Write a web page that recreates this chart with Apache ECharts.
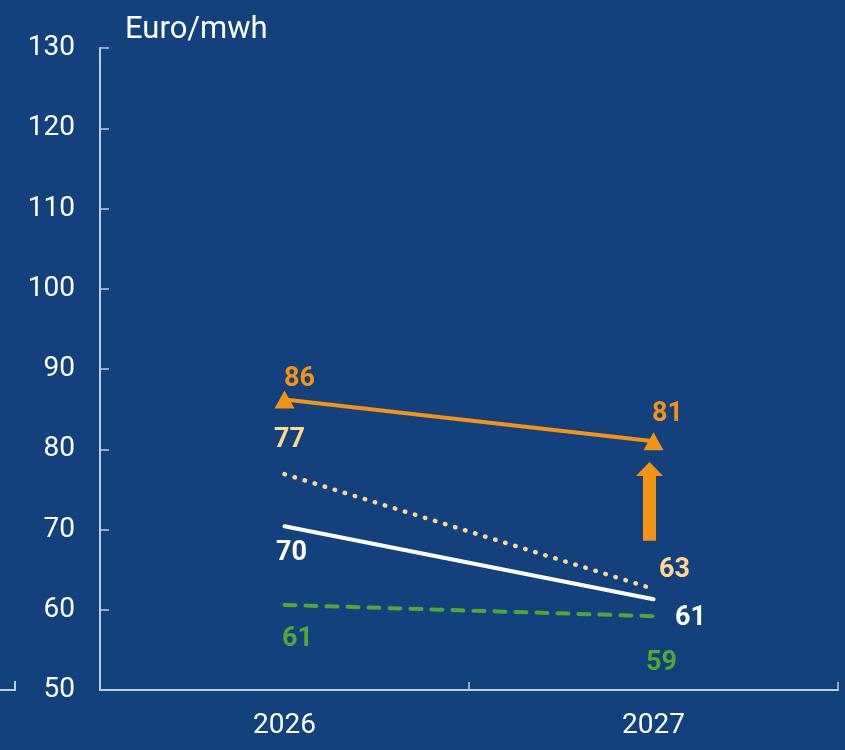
<!DOCTYPE html>
<html>
<head>
<meta charset="utf-8">
<script src="https://cdn.jsdelivr.net/npm/echarts@6/dist/echarts.min.js"></script>
<style>
html,body{margin:0;padding:0;background:#13417d;}
#chart{width:845px;height:750px;}
</style>
</head>
<body>
<div id="chart"></div>
<script>
// Data
const categories = ['2026', '2027'];
const orangeSeries = [86.2, 81.0];
const dottedSeries = [76.9, 62.6];
const whiteSeries = [70.4, 61.3];
const greenSeries = [60.6, 59.2];
const arrowRange = [[1, 68.6, 78.4]]; // category index, from, to
const yTicks = { min: 50, max: 130, interval: 10 };
const unitLabel = 'Euro/mwh';

// Styles
const C_ORANGE = '#f39314';
const C_YELLOW = '#fdd98e';
const C_WHITE = '#ffffff';
const C_GREEN = '#52a631';
const C_AXIS = '#c3ccd9';
const FONT = 'Roboto, "Noto Sans", sans-serif';

function lbl(color) {
  return {
    show: true,
    position: 'inside',
    color: color,
    fontFamily: FONT,
    fontSize: 27,
    fontWeight: 'bold',
    formatter: p => Math.round(p.value)
  };
}
function withLabels(values, color, offsets) {
  return values.map((v, i) => ({ value: v, label: Object.assign(lbl(color), { offset: offsets[i] }) }));
}

const chart = echarts.init(document.getElementById('chart'));
chart.setOption({
  backgroundColor: '#13417d',
  animation: false,
  grid: { left: 100, right: 7, top: 48, bottom: 60, containLabel: false },
  graphic: [
    { type: 'text', left: 125, top: 15, style: { text: unitLabel, fill: '#fff', font: '31px ' + FONT } },
    { type: 'polyline', shape: { points: [[0, 690], [15, 690], [15, 681]] }, style: { stroke: C_AXIS, lineWidth: 2, fill: null } }
  ],
  xAxis: {
    type: 'category',
    data: categories,
    boundaryGap: true,
    axisLine: { show: true, lineStyle: { color: C_AXIS, width: 2 } },
    axisTick: { show: true, inside: true, length: 8, alignWithLabel: false, lineStyle: { color: C_AXIS, width: 1.5 } },
    axisLabel: { color: '#fff', fontFamily: FONT, fontSize: 28, margin: 22 },
    splitLine: { show: false }
  },
  yAxis: {
    type: 'value',
    min: yTicks.min, max: yTicks.max, interval: yTicks.interval,
    axisLine: { show: true, lineStyle: { color: C_AXIS, width: 2 } },
    axisTick: { show: true, inside: true, length: 9, lineStyle: { color: C_AXIS, width: 1.5 } },
    axisLabel: { color: '#fff', fontFamily: FONT, fontSize: 28, margin: 25 },
    splitLine: { show: false }
  },
  series: [
    {
      type: 'line', z: 3,
      data: withLabels(greenSeries, C_GREEN, [[13, 34], [8, 47]]),
      symbol: 'circle', symbolSize: 0.1, showSymbol: true,
      itemStyle: { color: C_GREEN },
      lineStyle: { color: C_GREEN, width: 4, type: [11, 10], cap: 'round' }
    },
    {
      type: 'line', z: 3,
      data: withLabels(whiteSeries, C_WHITE, [[7, 27], [37, 19]]),
      symbol: 'circle', symbolSize: 0.1, showSymbol: true,
      itemStyle: { color: C_WHITE },
      lineStyle: { color: C_WHITE, width: 4, cap: 'round' }
    },
    {
      type: 'line', z: 3,
      data: withLabels(dottedSeries, C_YELLOW, [[5, -34], [21, -19]]),
      symbol: 'circle', symbolSize: 0.1, showSymbol: true,
      itemStyle: { color: C_YELLOW },
      lineStyle: { color: C_YELLOW, width: 4.5, type: [0.5, 10], cap: 'round' }
    },
    {
      type: 'line', z: 4,
      data: withLabels(orangeSeries, C_ORANGE, [[15, -20], [14, -27]]),
      symbol: 'triangle', symbolSize: [20, 18], showSymbol: true,
      itemStyle: { color: C_ORANGE },
      lineStyle: { color: C_ORANGE, width: 4 }
    },
    {
      type: 'custom', z: 4,
      data: arrowRange,
      renderItem: function (params, api) {
        const p0 = api.coord([api.value(0), api.value(1)]);
        const p1 = api.coord([api.value(0), api.value(2)]);
        const cx = p0[0] - 4;
        const shaft = 6.5, head = 13.5, headH = 14;
        return {
          type: 'polygon',
          shape: { points: [
            [cx - shaft, p0[1]], [cx + shaft, p0[1]], [cx + shaft, p1[1] + headH],
            [cx + head, p1[1] + headH], [cx, p1[1]], [cx - head, p1[1] + headH],
            [cx - shaft, p1[1] + headH]
          ] },
          style: { fill: C_ORANGE }
        };
      }
    }
  ]
});
</script>
</body>
</html>
